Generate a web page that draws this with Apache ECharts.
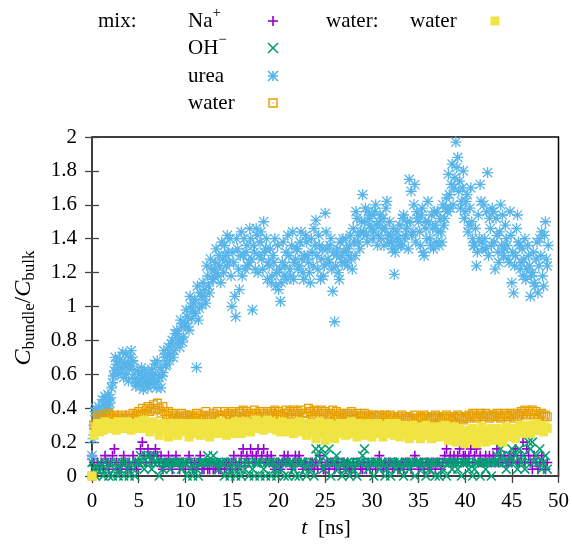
<!DOCTYPE html>
<html>
<head>
<meta charset="utf-8">
<script src="https://cdn.jsdelivr.net/npm/echarts@6/dist/echarts.min.js"></script>
<style>
  html, body { margin: 0; background: #fff; }
  #chart { width: 572px; height: 548px; }
</style>
</head>
<body>
<div id="chart"></div>
<script>
// time step of the samples, in ns (t = i * dt)
const dt = 0.2;

// C_bundle / C_bulk, mix simulation
const naPlus = [
  0.12,0.08,0.04,0.08,0.04, 0.08,0.04,0.12,0.08,0.04, 0.08,0.12,0.16,0.08,0.04, 0.04,0.08,0.12,0.08,0.04,
  0.08,0.04,0.12,0.08,0.04, 0.08,0.16,0.20,0.12,0.08, 0.16,0.12,0.08,0.12,0.16, 0.12,0.08,0.12,0.04,0.08,
  0.08,0.12,0.08,0.04,0.08, 0.12,0.08,0.04,0.08,0.08, 0.04,0.08,0.12,0.08,0.04, 0.08,0.04,0.08,0.12,0.04,
  0.04,0.08,0.04,0.04,0.08, 0.04,0.04,0.08,0.04,0.04, 0.08,0.04,0.08,0.08,0.04, 0.08,0.12,0.08,0.04,0.08,
  0.12,0.16,0.08,0.12,0.08, 0.16,0.12,0.08,0.12,0.16, 0.08,0.12,0.16,0.08,0.12, 0.08,0.12,0.08,0.04,0.08,
  0.08,0.04,0.08,0.12,0.08, 0.12,0.08,0.04,0.08,0.12, 0.08,0.12,0.08,0.04,0.08, 0.08,0.04,0.08,0.08,0.04,
  0.08,0.04,0.12,0.08,0.04, 0.04,0.08,0.04,0.08,0.08, 0.04,0.08,0.08,0.04,0.08, 0.08,0.04,0.08,0.04,0.04,
  0.08,0.04,0.08,0.08,0.04, 0.04,0.08,0.04,0.08,0.04, 0.08,0.08,0.04,0.08,0.12, 0.08,0.04,0.08,0.04,0.08,
  0.08,0.04,0.08,0.08,0.04, 0.04,0.08,0.04,0.08,0.08, 0.08,0.04,0.08,0.12,0.08, 0.04,0.08,0.08,0.04,0.08,
  0.08,0.04,0.08,0.08,0.04, 0.08,0.08,0.04,0.08,0.12, 0.16,0.08,0.12,0.08,0.12, 0.08,0.12,0.16,0.08,0.12,
  0.12,0.08,0.12,0.16,0.08, 0.12,0.16,0.08,0.12,0.08, 0.08,0.12,0.08,0.12,0.08, 0.12,0.08,0.16,0.08,0.12,
  0.08,0.12,0.08,0.08,0.12, 0.08,0.12,0.16,0.08,0.08, 0.12,0.20,0.08,0.16,0.12, 0.08,0.04,0.12,0.08,0.04,
  0.08,0.12,0.08,0.04,0.08
];
const ohMinus = [
  0.08,0.04,0.00,0.04,0.08, 0.04,0.00,0.08,0.04,0.00, 0.08,0.00,0.04,0.08,0.00, 0.04,0.08,0.00,0.08,0.04,
  0.00,0.08,0.04,0.00,0.08, 0.08,0.12,0.08,0.04,0.12, 0.08,0.12,0.04,0.08,0.12, 0.08,0.00,0.08,0.04,0.08,
  0.08,0.08,0.04,0.08,0.08, 0.08,0.08,0.08,0.04,0.08, 0.08,0.00,0.08,0.04,0.00, 0.08,0.04,0.00,0.08,0.08,
  0.08,0.08,0.12,0.08,0.08, 0.12,0.08,0.08,0.04,0.08, 0.08,0.00,0.08,0.04,0.00, 0.08,0.04,0.00,0.08,0.04,
  0.00,0.08,0.04,0.08,0.00, 0.08,0.04,0.00,0.08,0.08, 0.00,0.08,0.04,0.00,0.08, 0.08,0.00,0.08,0.04,0.00,
  0.08,0.04,0.08,0.00,0.08, 0.00,0.08,0.08,0.04,0.00, 0.08,0.00,0.08,0.08,0.04, 0.00,0.08,0.04,0.08,0.00,
  0.16,0.12,0.08,0.16,0.04, 0.12,0.08,0.16,0.00,0.08, 0.08,0.12,0.04,0.08,0.00, 0.08,0.04,0.08,0.00,0.08,
  0.04,0.08,0.00,0.08,0.08, 0.12,0.16,0.08,0.04,0.08, 0.08,0.00,0.08,0.08,0.04, 0.08,0.08,0.00,0.04,0.08,
  0.00,0.08,0.08,0.04,0.08, 0.08,0.04,0.00,0.08,0.08, 0.04,0.08,0.08,0.00,0.08, 0.08,0.08,0.04,0.08,0.00,
  0.08,0.04,0.08,0.08,0.00, 0.08,0.00,0.08,0.04,0.08, 0.00,0.08,0.08,0.04,0.08, 0.08,0.04,0.08,0.00,0.08,
  0.08,0.08,0.04,0.08,0.00, 0.04,0.08,0.08,0.00,0.08, 0.08,0.04,0.08,0.08,0.00, 0.08,0.08,0.12,0.08,0.16,
  0.12,0.08,0.04,0.08,0.12, 0.16,0.08,0.12,0.04,0.16, 0.08,0.12,0.04,0.08,0.20, 0.16,0.20,0.08,0.12,0.08,
  0.16,0.04,0.08,0.12,0.04
];
// urea at t = i*dt and at the half steps t = i*dt + dt/2
const urea = [
  0.12,0.30,0.40,0.36,0.33, 0.38,0.42,0.47,0.44,0.40, 0.46,0.55,0.62,0.66,0.60, 0.69,0.64,0.58,0.72,0.66,
  0.63,0.74,0.68,0.57,0.55, 0.60,0.53,0.58,0.62,0.56, 0.52,0.57,0.63,0.55,0.60, 0.68,0.58,0.52,0.61,0.70,
  0.66,0.76,0.72,0.80,0.74, 0.78,0.84,0.76,0.88,0.82, 0.90,0.94,0.86,1.00,0.97, 1.04,0.64,0.92,1.08,1.01,
  1.10,1.02,1.18,1.08,1.22, 1.16,1.26,1.20,1.30,1.14, 1.28,1.36,1.24,1.32,1.40, 1.00,1.26,0.94,1.34,1.10,
  1.44,1.30,1.22,1.36,1.26, 1.40,0.98,1.32,1.46,1.20, 1.38,1.28,1.50,1.34,1.16, 1.24,1.14,1.30,1.40,1.20,
  1.10,1.03,1.26,1.18,1.32, 1.42,1.22,1.36,1.16,1.28, 1.34,1.24,1.44,1.20,1.30, 1.38,1.26,1.14,1.32,1.46,
  1.51,1.22,1.36,1.28,1.18, 1.55,1.34,1.26,1.40,1.09, 0.91,1.30,1.20,1.38,1.26, 1.32,1.40,1.24,1.36,1.28,
  1.46,1.30,1.52,1.38,1.44, 1.66,1.50,1.42,1.56,1.48, 1.54,1.44,1.60,1.36,1.50, 1.40,1.52,1.46,1.62,1.38,
  1.42,1.34,1.19,1.40,1.36, 1.48,1.36,1.54,1.42,1.50, 1.75,1.68,1.44,1.72,1.56, 1.50,1.36,1.58,1.30,1.46,
  1.62,1.40,1.54,1.34,1.48, 1.56,1.36,1.44,1.60,1.52, 1.64,1.78,1.58,1.84,1.70, 1.97,1.88,1.74,1.62,1.80,
  1.56,1.66,1.48,1.70,1.40, 1.36,1.24,1.54,1.72,1.38, 1.60,1.34,1.79,1.52,1.36, 1.56,1.22,1.42,1.26,1.60,
  1.54,1.34,1.40,1.28,1.56, 1.14,1.08,1.30,1.54,1.36, 1.26,1.18,1.40,1.22,1.30, 1.06,1.20,1.14,1.28,1.08,
  1.40,1.44,1.12,1.50,1.24
];
const ureaMid = [
  0.22,0.38,0.28,0.41,0.35, 0.45,0.36,0.40,0.48,0.43, 0.52,0.59,0.70,0.63,0.68, 0.61,0.73,0.67,0.60,0.56,
  0.70,0.65,0.60,0.53,0.62, 0.55,0.64,0.51,0.59,0.54, 0.61,0.54,0.58,0.66,0.52, 0.56,0.64,0.59,0.74,0.65,
  0.72,0.68,0.78,0.70,0.84, 0.86,0.80,0.92,0.79,0.90, 0.98,0.88,1.06,0.93,1.02, 0.96,1.12,0.99,1.06,1.14,
  1.06,1.24,1.12,1.28,1.16, 1.22,1.34,1.18,1.24,1.38, 1.20,1.30,1.42,1.26,1.18, 1.32,1.06,1.40,1.22,1.30,
  1.18,1.40,1.32,1.24,1.46, 1.28,1.36,1.22,1.42,1.30, 1.44,1.22,1.32,1.40,1.26, 1.34,1.18,1.26,1.12,1.36,
  1.22,1.14,1.38,1.24,1.16, 1.30,1.18,1.44,1.26,1.34, 1.22,1.38,1.28,1.16,1.42, 1.30,1.20,1.40,1.24,1.36,
  1.30,1.42,1.16,1.34,1.24, 1.44,1.28,1.36,1.22,1.32, 1.24,1.34,1.16,1.30,1.40, 1.26,1.34,1.30,1.42,1.22,
  1.38,1.56,1.42,1.34,1.50, 1.44,1.58,1.38,1.52,1.46, 1.40,1.56,1.48,1.42,1.54, 1.46,1.36,1.58,1.42,1.50,
  1.38,1.46,1.32,1.44,1.40, 1.36,1.52,1.40,1.46,1.34, 1.50,1.42,1.60,1.38,1.52, 1.44,1.54,1.32,1.50,1.40,
  1.50,1.36,1.46,1.56,1.38, 1.44,1.52,1.38,1.48,1.58, 1.56,1.66,1.72,1.60,1.76, 1.82,1.68,1.58,1.70,1.52,
  1.62,1.44,1.58,1.50,1.36, 1.46,1.32,1.40,1.62,1.34, 1.40,1.56,1.30,1.46,1.58, 1.38,1.52,1.32,1.44,1.36,
  1.30,1.48,1.36,1.26,1.42, 1.32,1.24,1.46,1.38,1.22, 1.34,1.28,1.16,1.36,1.24, 1.18,1.32,1.12,1.38,1.24,
  1.30,1.18,1.42,1.28,1.36
];
const waterMix = [
  0.00,0.30,0.34,0.36,0.33, 0.35,0.33,0.36,0.34,0.37, 0.35,0.34,0.36,0.33,0.35, 0.34,0.36,0.33,0.35,0.34,
  0.36,0.34,0.37,0.35,0.36, 0.38,0.36,0.40,0.37,0.39, 0.41,0.38,0.40,0.42,0.39, 0.43,0.40,0.37,0.41,0.38,
  0.36,0.38,0.35,0.37,0.34, 0.36,0.33,0.35,0.37,0.34, 0.36,0.35,0.33,0.36,0.34, 0.35,0.37,0.34,0.36,0.33,
  0.35,0.38,0.34,0.36,0.35, 0.37,0.35,0.38,0.36,0.34, 0.36,0.38,0.35,0.37,0.36, 0.38,0.36,0.37,0.35,0.38,
  0.37,0.39,0.36,0.38,0.35, 0.37,0.36,0.39,0.37,0.35, 0.38,0.36,0.37,0.35,0.38, 0.36,0.38,0.37,0.39,0.36,
  0.38,0.36,0.35,0.37,0.39, 0.37,0.38,0.36,0.39,0.37, 0.38,0.36,0.39,0.37,0.35, 0.37,0.40,0.38,0.36,0.39,
  0.37,0.38,0.36,0.39,0.37, 0.38,0.36,0.35,0.37,0.39, 0.36,0.38,0.35,0.37,0.36, 0.34,0.36,0.37,0.35,0.38,
  0.36,0.34,0.37,0.35,0.36, 0.35,0.37,0.34,0.36,0.35, 0.34,0.36,0.35,0.33,0.36, 0.35,0.34,0.36,0.35,0.33,
  0.36,0.34,0.35,0.33,0.35, 0.34,0.36,0.33,0.35,0.34, 0.35,0.33,0.34,0.36,0.34, 0.33,0.35,0.34,0.36,0.35,
  0.34,0.33,0.35,0.34,0.36, 0.35,0.34,0.33,0.35,0.34, 0.36,0.34,0.35,0.33,0.35, 0.34,0.36,0.35,0.34,0.33,
  0.35,0.34,0.36,0.35,0.37, 0.36,0.34,0.35,0.37,0.36, 0.35,0.37,0.36,0.34,0.35, 0.36,0.35,0.37,0.36,0.34,
  0.35,0.37,0.36,0.35,0.37, 0.36,0.34,0.37,0.35,0.36, 0.38,0.37,0.39,0.36,0.38, 0.37,0.39,0.36,0.38,0.34,
  0.36,0.37,0.35,0.36,0.35
];
// C_bundle / C_bulk, pure water simulation
const waterOnly = [
  0.00,0.24,0.29,0.31,0.26, 0.30,0.27,0.32,0.29,0.31, 0.28,0.31,0.30,0.27,0.32, 0.29,0.31,0.28,0.30,0.32,
  0.30,0.27,0.31,0.29,0.30, 0.32,0.28,0.30,0.33,0.29, 0.31,0.26,0.30,0.32,0.28, 0.30,0.24,0.29,0.31,0.27,
  0.30,0.23,0.28,0.31,0.26, 0.29,0.24,0.31,0.27,0.31, 0.26,0.30,0.23,0.28,0.31, 0.25,0.29,0.31,0.24,0.28,
  0.30,0.26,0.31,0.23,0.29, 0.27,0.31,0.25,0.30,0.32, 0.26,0.29,0.24,0.31,0.28, 0.30,0.25,0.32,0.27,0.31,
  0.25,0.29,0.32,0.27,0.31, 0.26,0.31,0.28,0.33,0.30, 0.28,0.32,0.27,0.31,0.33, 0.29,0.32,0.28,0.31,0.27,
  0.30,0.26,0.32,0.28,0.31, 0.26,0.31,0.29,0.25,0.31, 0.28,0.32,0.26,0.30,0.31, 0.24,0.29,0.31,0.26,0.30,
  0.22,0.28,0.32,0.25,0.30, 0.21,0.27,0.31,0.24,0.29, 0.22,0.30,0.26,0.31,0.25, 0.28,0.24,0.31,0.27,0.32,
  0.25,0.29,0.23,0.31,0.27, 0.30,0.24,0.28,0.31,0.26, 0.23,0.29,0.27,0.31,0.25, 0.28,0.23,0.30,0.26,0.31,
  0.25,0.29,0.24,0.31,0.27, 0.23,0.28,0.30,0.25,0.29, 0.22,0.27,0.30,0.24,0.28, 0.26,0.22,0.29,0.25,0.30,
  0.24,0.28,0.22,0.27,0.29, 0.25,0.23,0.28,0.26,0.30, 0.24,0.21,0.27,0.23,0.29, 0.20,0.25,0.28,0.22,0.26,
  0.19,0.24,0.27,0.21,0.28, 0.23,0.19,0.26,0.22,0.29, 0.24,0.20,0.27,0.23,0.28, 0.21,0.25,0.28,0.22,0.26,
  0.20,0.25,0.29,0.23,0.27, 0.24,0.28,0.22,0.26,0.30, 0.26,0.29,0.25,0.28,0.30, 0.25,0.29,0.27,0.31,0.28,
  0.27,0.30,0.26,0.29,0.28
];

const serif = '"Liberation Serif", "DejaVu Serif", serif';
const colors = { na: '#9400d3', oh: '#009e73', urea: '#56b4e9', mix: '#e69f00', water: '#f0e442' };

// point shapes like gnuplot's pt 1,2,3,4,5
const PLUS = 'path://M42,0H58V42H100V58H58V100H42V58H0V42H42Z';
const CROSS = 'path://M0,11L11,0L100,89L89,100Z M89,0L100,11L11,100L0,89Z';
const STAR = 'path://M44,0H56V44H100V56H56V100H44V56H0V44H44Z M4,12L12,4L96,88L88,96Z M88,4L96,12L12,96L4,88Z';
const OPEN_SQ = 'path://M0,0H100V100H0Z M14,14V86H86V14Z M44,44H56V56H44Z';

function pairs(arr, offset) {
  return arr.map((v, i) => [Math.round((i * dt + (offset || 0)) * 100) / 100, v]);
}

function scatter(name, data, symbol, size, color) {
  return {
    name: name, type: 'scatter', data: data,
    symbol: symbol, symbolSize: size,
    itemStyle: { color: color, opacity: 1 },
    clip: false, silent: true, animation: false
  };
}

// text pieces laid out in a row: [text, font, dy]
const mctx = document.createElement('canvas').getContext('2d');
function tw(s, font) { mctx.font = font; return mctx.measureText(s).width; }
function textRow(pieces, x, y, align, rot) {
  let total = pieces.reduce((w, p) => w + tw(p[0], p[1]), 0);
  let cx = align === 'center' ? -total / 2 : 0;
  const children = pieces.map(p => {
    const el = { type: 'text', x: cx, y: p[2],
      style: { text: p[0], font: p[1], fill: '#000', align: 'left', verticalAlign: 'middle' } };
    cx += tw(p[0], p[1]);
    return el;
  });
  return { type: 'group', x: x, y: y, rotation: rot || 0, children: children };
}

const big = '21px ' + serif;
const bigIt = 'italic 22px ' + serif;
const small = '15px ' + serif;
const yIt = 'italic 24px ' + serif;
const ySub = '17px ' + serif;
const ySlash = '23px ' + serif;

function seg(x1, y1, x2, y2, color) {
  return { type: 'line', shape: { x1: x1, y1: y1, x2: x2, y2: y2 }, style: { stroke: color, lineWidth: 1.6 } };
}
function plusMark(x, y, c) { return [seg(x - 5, y, x + 5, y, c), seg(x, y - 5, x, y + 5, c)]; }
function crossMark(x, y, c) { return [seg(x - 5, y - 5, x + 5, y + 5, c), seg(x - 5, y + 5, x + 5, y - 5, c)]; }
function starMark(x, y, c) { return plusMark(x, y, c).concat(crossMark(x, y, c)); }
function openSq(x, y, c) {
  return [{ type: 'rect', shape: { x: x - 4, y: y - 4, width: 8, height: 8 }, style: { fill: 'none', stroke: c, lineWidth: 1.4 } },
          { type: 'rect', shape: { x: x - 0.6, y: y - 0.6, width: 1.2, height: 1.2 }, style: { fill: c } }];
}
function fillSq(x, y, c) { return [{ type: 'rect', shape: { x: x - 4.5, y: y - 4.5, width: 9, height: 9 }, style: { fill: c } }]; }

const rows = [21, 48, 76, 103];
const markX = 273;
const legend = [
  textRow([['mix:', big, 0]], 98, rows[0], 'left'),
  textRow([['Na', big, 0], ['+', small, -8]], 188, rows[0], 'left'),
  textRow([['OH', big, 0], ['\u2212', small, -8]], 188, rows[1], 'left'),
  textRow([['urea', big, 0]], 188, rows[2], 'left'),
  textRow([['water', big, 0]], 188, rows[3], 'left'),
  textRow([['water:', big, 0]], 326, rows[0], 'left'),
  textRow([['water', big, 0]], 410, rows[0], 'left')
].concat(plusMark(markX, rows[0], colors.na), crossMark(markX, rows[1], colors.oh),
  starMark(markX, rows[2], colors.urea), openSq(markX, rows[3], colors.mix), fillSq(495, rows[0], colors.water));

const axisLabels = [
  textRow([['C', yIt, 0], ['bundle', ySub, 6], ['/', ySlash, 0], ['C', yIt, 0], ['bulk', ySub, 6]], 24, 308, 'center', Math.PI / 2),
  textRow([['t', bigIt, 0], ['  [ns]', big, 0]], 326, 528, 'center')
];

function axisBase(pos, showLabel) {
  return {
    type: 'value', position: pos,
    axisLine: { show: false },
    axisTick: { inside: true, length: 7, lineStyle: { color: '#444', width: 1.3 } },
    splitLine: { show: false },
    axisLabel: { show: showLabel, fontFamily: serif, fontSize: 21, color: '#000', margin: 15 }
  };
}

const chart = echarts.init(document.getElementById('chart'), null, { renderer: 'canvas' });
chart.setOption({
  animation: false,
  backgroundColor: '#fff',
  grid: { left: 92, right: 13, top: 137, bottom: 72, show: true, borderColor: '#000', borderWidth: 1.5, backgroundColor: 'transparent' },
  xAxis: [
    Object.assign(axisBase('bottom', true), { min: 0, max: 50, interval: 5 }),
    Object.assign(axisBase('top', false), { min: 0, max: 50, interval: 5 })
  ],
  yAxis: [
    Object.assign(axisBase('left', true), { min: 0, max: 2, interval: 0.2 }),
    Object.assign(axisBase('right', false), { min: 0, max: 2, interval: 0.2 })
  ],
  series: [
    scatter('Na+', pairs(naPlus), PLUS, 10, colors.na),
    scatter('OH-', pairs(ohMinus), CROSS, 10, colors.oh),
    scatter('urea', pairs(urea).concat(pairs(ureaMid, dt / 2)), STAR, 11, colors.urea),
    scatter('water (mix)', pairs(waterMix), OPEN_SQ, 9, colors.mix),
    scatter('water', pairs(waterOnly), 'rect', 9, colors.water)
  ],
  graphic: legend.concat(axisLabels)
});
</script>
</body>
</html>
